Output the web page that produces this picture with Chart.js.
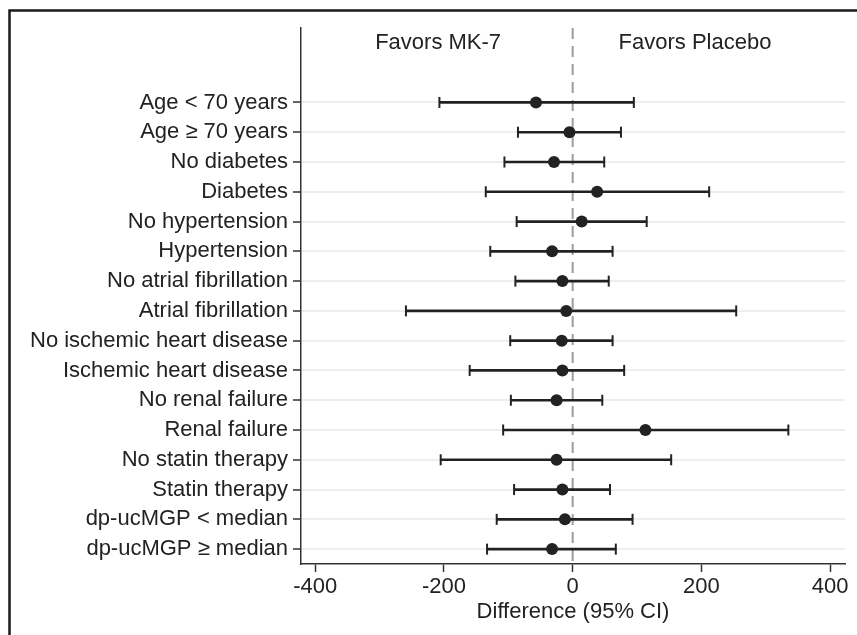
<!DOCTYPE html>
<html>
<head>
<meta charset="utf-8">
<script src="https://cdn.jsdelivr.net/npm/chart.js@4.4.1/dist/chart.umd.min.js"></script>
<style>
  html, body { margin: 0; padding: 0; background: #fff; overflow: hidden; }
</style>
</head>
<body>
<canvas id="chart" width="857" height="635"></canvas>
<script>
// subgroup rows, top to bottom
const subgroups = [
    'Age < 70 years', 'Age \u2265 70 years', 'No diabetes', 'Diabetes',
    'No hypertension', 'Hypertension', 'No atrial fibrillation', 'Atrial fibrillation',
    'No ischemic heart disease', 'Ischemic heart disease', 'No renal failure', 'Renal failure',
    'No statin therapy', 'Statin therapy', 'dp-ucMGP < median', 'dp-ucMGP \u2265 median'
];
const estimates = [-57, -5, -29, 38, 14, -32, -16, -10, -17, -16, -25, 113, -25, -16, -12, -32];
const lowerCI   = [-207, -85, -106, -135, -87, -128, -89, -259, -97, -160, -96, -108, -205, -91, -118, -133];
const upperCI   = [95, 75, 49, 212, 115, 62, 56, 254, 62, 80, 46, 335, 153, 58, 93, 67];
const xTickValues = [-400, -200, 0, 200, 400];
const sideLabels = ['Favors MK-7', 'Favors Placebo'];

Chart.defaults.font.family = '"Liberation Sans", Arial, Helvetica, sans-serif';
const ink = '#222';

const zeroLine = {
    id: 'zeroLine',
    beforeDatasetsDraw(chart) {
        const { ctx, chartArea, scales: { x } } = chart;
        const px = x.getPixelForValue(0);
        ctx.save();
        ctx.strokeStyle = '#9d9d9d';
        ctx.lineWidth = 2;
        ctx.setLineDash([11, 7]);
        ctx.beginPath();
        ctx.moveTo(px, chartArea.top);
        ctx.lineTo(px, chartArea.bottom);
        ctx.stroke();
        ctx.restore();
    }
};

const sideText = {
    id: 'sideText',
    afterDraw(chart) {
        const { ctx, scales: { x, y } } = chart;
        ctx.save();
        ctx.font = '22px "Liberation Sans", Arial, sans-serif';
        ctx.fillStyle = ink;
        ctx.textAlign = 'center';
        ctx.textBaseline = 'middle';
        ctx.fillText(sideLabels[0], x.getPixelForValue(-209), y.getPixelForValue(-2));
        ctx.fillText(sideLabels[1], x.getPixelForValue(190), y.getPixelForValue(-2));
        ctx.restore();
    }
};

const frame = {
    id: 'frame',
    afterDraw(chart) {
        const { ctx } = chart;
        ctx.save();
        ctx.strokeStyle = '#1a1a1a';
        ctx.lineWidth = 2.5;
        ctx.beginPath();
        ctx.moveTo(9.5, 640);
        ctx.lineTo(9.5, 10.5);
        ctx.lineTo(870, 10.5);
        ctx.stroke();
        ctx.restore();
    }
};

new Chart(document.getElementById('chart'), {
    type: 'scatter',
    data: {
        datasets: [
            {
                label: 'Estimate',
                data: subgroups.map((_, i) => ({ x: estimates[i], y: i })),
                pointRadius: 6,
                pointHoverRadius: 6,
                backgroundColor: ink,
                borderWidth: 0,
                order: 0
            },
            {
                label: 'Lower',
                data: subgroups.map((_, i) => ({ x: lowerCI[i], y: i })),
                pointStyle: 'line',
                rotation: 90,
                pointRadius: 5.5,
                borderColor: ink,
                borderWidth: 2,
                order: 1
            },
            {
                label: 'Upper',
                data: subgroups.map((_, i) => ({ x: upperCI[i], y: i })),
                pointStyle: 'line',
                rotation: 90,
                pointRadius: 5.5,
                borderColor: ink,
                borderWidth: 2,
                order: 1
            },
            {
                type: 'bar',
                label: 'CI',
                indexAxis: 'y',
                data: subgroups.map((_, i) => ({ x: [lowerCI[i], upperCI[i]], y: i })),
                backgroundColor: ink,
                borderWidth: 0,
                barThickness: 2,
                grouped: false,
                order: 2
            }
        ]
    },
    options: {
        responsive: false,
        animation: false,
        layout: { padding: { top: 28, right: 12, left: 0, bottom: 0 } },
        plugins: {
            legend: { display: false },
            tooltip: { enabled: false }
        },
        scales: {
            x: {
                type: 'linear',
                min: -422,
                max: 423,
                offset: false,
                beginAtZero: false,
                afterBuildTicks: s => { s.ticks = xTickValues.map(v => ({ value: v })); },
                afterFit: s => { s.height = 71; },
                ticks: { color: ink, font: { size: 22 }, padding: 2 },
                grid: { offset: false, drawOnChartArea: false, tickColor: '#333', tickWidth: 1.5, tickLength: 8 },
                border: { color: '#333', width: 1.5 },
                title: {
                    display: true,
                    text: 'Difference (95% CI)',
                    color: ink,
                    font: { size: 22 },
                    padding: { top: 0, bottom: 10 }
                }
            },
            y: {
                type: 'linear',
                reverse: true,
                offset: false,
                min: -2.5,
                max: subgroups.length - 0.5,
                afterBuildTicks: s => { s.ticks = subgroups.map((_, i) => ({ value: i })); },
                afterFit: s => { s.width = 301; },
                ticks: {
                    autoSkip: false,
                    color: ink,
                    font: { size: 22 },
                    padding: 5,
                    callback: v => subgroups[v]
                },
                grid: { offset: false, color: '#eeeeee', lineWidth: 2, tickColor: '#333', tickWidth: 1.5, tickLength: 8 },
                border: { color: '#333', width: 1.5 }
            }
        }
    },
    plugins: [zeroLine, sideText, frame]
});
</script>
</body>
</html>
